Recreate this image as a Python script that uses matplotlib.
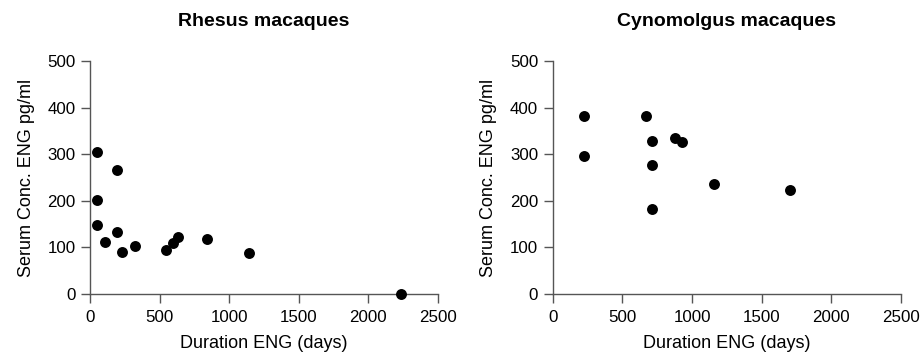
import matplotlib
matplotlib.use("Agg")
import matplotlib.pyplot as plt

plt.rcParams['font.family'] = ['Liberation Sans', 'DejaVu Sans']

rhesus_days = [50, 192, 50, 53, 197, 105, 232, 324, 549, 599, 633, 837, 1141, 2232]
rhesus_conc = [304, 265, 201, 149, 132, 112, 91, 102, 95, 110, 122, 119, 88, 0]

cyno_days = [227, 227, 667, 715, 715, 715, 878, 931, 1156, 1703]
cyno_conc = [381, 295, 382, 329, 277, 183, 334, 325, 237, 224]

titles = ["Rhesus macaques", "Cynomolgus macaques"]
xticks = [0, 500, 1000, 1500, 2000, 2500]
yticks = [0, 100, 200, 300, 400, 500]
xlabel = "Duration ENG (days)"
ylabel = "Serum Conc. ENG pg/ml"

fig = plt.figure(figsize=(9.22, 3.56), dpi=100)
ax1 = fig.add_axes([0.0976, 0.174, 0.3775, 0.655])
ax2 = fig.add_axes([0.5995, 0.174, 0.3778, 0.655])

spine_col = '#555555'
for ax, xs, ys, t in [(ax1, rhesus_days, rhesus_conc, titles[0]),
                      (ax2, cyno_days, cyno_conc, titles[1])]:
    ax.scatter(xs, ys, s=62, color='black', clip_on=False, zorder=3, linewidths=0)
    ax.set_xlim(0, 2500)
    ax.set_ylim(0, 500)
    ax.set_xticks(xticks)
    ax.set_yticks(yticks)
    ax.spines['top'].set_visible(False)
    ax.spines['right'].set_visible(False)
    for s in ['left', 'bottom']:
        ax.spines[s].set_color(spine_col)
        ax.spines[s].set_linewidth(1.0)
    ax.tick_params(axis='both', direction='out', length=6.5, width=1.0,
                   color=spine_col, labelsize=12.2)
    ax.tick_params(axis='x', pad=5)
    ax.tick_params(axis='y', pad=4)
    ax.set_xlabel(xlabel, fontsize=13, labelpad=7)
    ax.set_ylabel(ylabel, fontsize=13, labelpad=9)
    ax.set_title(t, fontsize=14, fontweight='bold', pad=25)

fig.savefig('out.png', dpi=100)
